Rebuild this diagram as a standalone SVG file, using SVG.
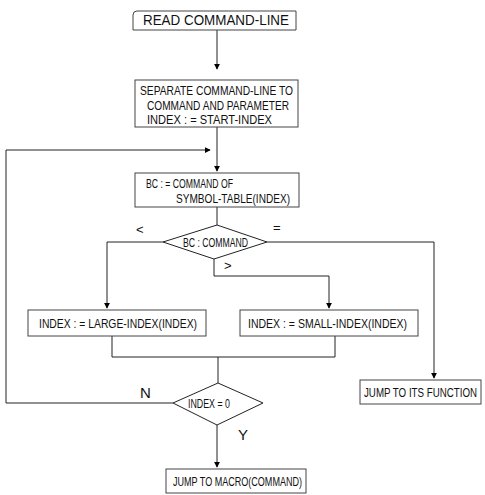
<svg xmlns="http://www.w3.org/2000/svg" width="485" height="495" viewBox="0 0 485 495">
<defs>
<marker id="ah" viewBox="0 0 8 8" refX="7" refY="4" markerWidth="6" markerHeight="6" orient="auto" markerUnits="userSpaceOnUse">
<path d="M0,0 L8,4 L0,8 z" fill="#000"/>
</marker>
<style>
.box{fill:none;stroke:#444;stroke-width:1}
.ln{fill:none;stroke:#222;stroke-width:1}
.t{font-family:"Liberation Sans Narrow","Liberation Sans",Arial,sans-serif;font-size:13px;fill:#111}
.big{font-size:15px}
</style>
</defs>
<rect width="485" height="495" fill="#fff"/>
<g id="connectors">
<path class="ln" d="M217,30 V69" marker-end="url(#ah)"/>
<path class="ln" d="M217,127 V171" marker-end="url(#ah)"/>
<path class="ln" d="M6,150 H210" marker-end="url(#ah)"/>
<path class="ln" d="M217,207 V225"/>
<path class="ln" d="M163,242 H107 V308" marker-end="url(#ah)"/>
<path class="ln" d="M214,259 V276 H329 V308" marker-end="url(#ah)"/>
<path class="ln" d="M267,242 H434 V378" marker-end="url(#ah)"/>
<path class="ln" d="M112,336 V357 H335 V336"/>
<path class="ln" d="M218,357 V383"/>
<path class="ln" d="M173,403 H6 V150"/>
<path class="ln" d="M217,425 V467" marker-end="url(#ah)"/>
</g>
<g id="n1">
<path class="box" d="M137,11 H296 V30 H133 V15 Q133,11 137,11 Z"/>
<text class="t big" x="143" y="25" textLength="146" lengthAdjust="spacingAndGlyphs">READ COMMAND-LINE</text>
</g>
<g id="n2">
<rect class="box" x="135" y="80" width="163" height="47"/>
<text class="t" x="140" y="95" textLength="153" lengthAdjust="spacingAndGlyphs">SEPARATE COMMAND-LINE TO</text>
<text class="t" x="147" y="110" textLength="142" lengthAdjust="spacingAndGlyphs">COMMAND AND PARAMETER</text>
<text class="t" x="147" y="124" textLength="125" lengthAdjust="spacingAndGlyphs">INDEX : = START-INDEX</text>
</g>
<g id="n3">
<rect class="box" x="135" y="173" width="164" height="34"/>
<text class="t" x="146" y="188" textLength="87" lengthAdjust="spacingAndGlyphs">BC : = COMMAND OF</text>
<text class="t" x="176" y="203" textLength="114" lengthAdjust="spacingAndGlyphs">SYMBOL-TABLE(INDEX)</text>
</g>
<g id="d1">
<path class="ln" d="M217,225 L267,242 L214,259 L163,242 Z"/>
<text class="t" x="183" y="247" textLength="65" lengthAdjust="spacingAndGlyphs">BC : COMMAND</text>
<text class="t" x="136" y="234">&lt;</text>
<text class="t" x="273" y="232">=</text>
<text class="t" x="224" y="270">&gt;</text>
</g>
<g id="n4">
<rect class="box" x="28" y="310" width="178" height="26"/>
<text class="t" x="39" y="328" textLength="158" lengthAdjust="spacingAndGlyphs">INDEX : = LARGE-INDEX(INDEX)</text>
</g>
<g id="n5">
<rect class="box" x="240" y="310" width="178" height="26"/>
<text class="t" x="248" y="328" textLength="159" lengthAdjust="spacingAndGlyphs">INDEX : = SMALL-INDEX(INDEX)</text>
</g>
<g id="n6">
<rect class="box" x="360" y="380" width="121" height="24"/>
<text class="t" transform="translate(364,397) scale(0.72,1)" x="0" y="0" textLength="157" lengthAdjust="spacingAndGlyphs">JUMP TO ITS FUNCTION</text>
</g>
<g id="d2">
<path class="ln" d="M218,383 L263,403 L217,425 L173,403 Z"/>
<text class="t" x="188" y="408" textLength="42" lengthAdjust="spacingAndGlyphs">INDEX = 0</text>
<text class="t big" x="140" y="398">N</text>
<text class="t big" x="238" y="440">Y</text>
</g>
<g id="n7">
<rect class="box" x="166" y="469" width="140" height="24"/>
<text class="t" x="173" y="486" textLength="129" lengthAdjust="spacingAndGlyphs">JUMP TO MACRO(COMMAND)</text>
</g>
</svg>
